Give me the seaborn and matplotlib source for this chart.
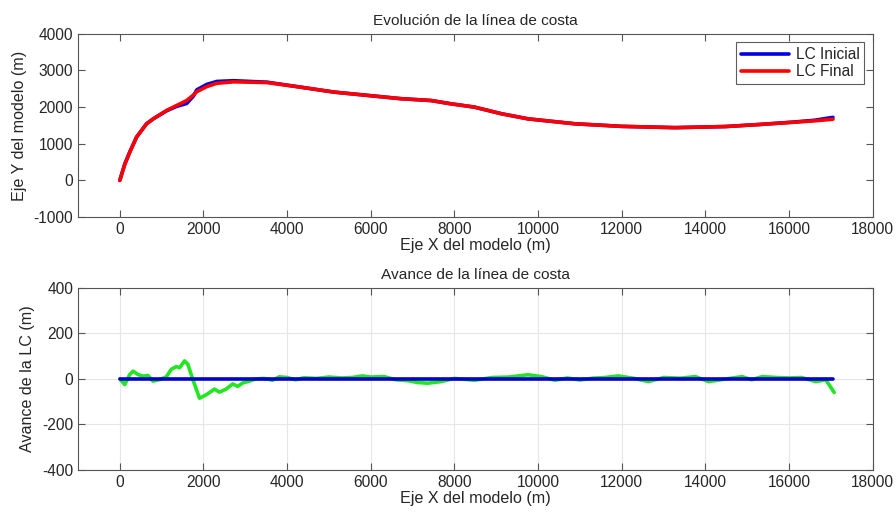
"""
Evolucion y avance de la linea de costa
"""

import numpy as np
import pandas as pd
import matplotlib

matplotlib.use("Agg")
import matplotlib.pyplot as plt
import seaborn as sns

# linea de costa inicial / final (m)
x_ini = [0, 120, 240, 400, 640, 800, 1120, 1360, 1600, 1760, 1840, 2080, 2320,
         2720, 3520, 4320, 5120, 5920, 6720, 7440, 7920, 8480, 9120, 9760,
         10880, 12000, 13280, 14480, 15280, 16080, 16600, 17050]
y_ini = [0, 450, 780, 1180, 1545, 1680, 1900, 2020, 2100, 2300, 2470, 2620,
         2700, 2720, 2680, 2545, 2410, 2320, 2230, 2180, 2090, 2000, 1820,
         1680, 1545, 1475, 1440, 1470, 1525, 1590, 1640, 1720]
x_fin = [0, 120, 240, 400, 640, 800, 1120, 1360, 1600, 1760, 1840, 2080, 2320,
         2720, 3520, 4320, 5120, 5920, 6720, 7440, 7920, 8480, 9120, 9760,
         10880, 12000, 13280, 14480, 15280, 16080, 16600, 17050]
y_fin = [0, 440, 770, 1180, 1545, 1680, 1910, 2045, 2180, 2330, 2420, 2560,
         2650, 2690, 2670, 2545, 2410, 2320, 2230, 2180, 2090, 2000, 1820,
         1680, 1545, 1475, 1440, 1470, 1525, 1585, 1625, 1670]

# avance de la linea de costa (m)
x_av = [0, 119, 238, 318, 437, 556, 675, 794, 953, 1112,
        1231, 1350, 1429, 1548, 1628, 1747, 1906, 2064, 2263, 2382,
        2541, 2700, 2818, 2938, 3097, 3256, 3450, 3653, 3811, 4000,
        4200, 4400, 4700, 5000, 5300, 5550, 5800, 6000, 6320, 6600,
        6900, 7120, 7360, 7680, 8000, 8480, 8900, 9300, 9760, 10080,
        10400, 10700, 11000, 11300, 11600, 11920, 12300, 12640, 13000, 13400,
        13760, 14080, 14500, 14880, 15100, 15360, 15700, 16000, 16300, 16640,
        16880, 17080]
y_av = [0, -25, 19, 34, 19, 12, 15, -10, -3, 9,
        42, 54, 49, 79, 64, -3, -85, -70, -45, -58,
        -45, -22, -33, -18, -10, 0, 2, -6, 9, 6,
        -4, 5, 2, 8, 4, 6, 13, 8, 10, -4,
        -8, -16, -19, -12, 2, -6, 6, 8, 18, 10,
        -6, 4, -5, 3, 6, 13, 2, -12, 6, 3,
        10, -12, 0, 10, -4, 10, 6, 4, 6, -12,
        -4, -60]
x_cero = [0, 17050]
y_cero = [0, 0]

sns.set_style("white")
plt.rcParams["font.family"] = ["Liberation Sans", "DejaVu Sans"]
plt.rcParams["axes.unicode_minus"] = False

fig = plt.figure(figsize=(8.96, 5.12), dpi=100)
ax1 = fig.add_axes([0.087, 0.576, 0.887, 0.358])
ax2 = fig.add_axes([0.087, 0.082, 0.887, 0.356])

sns.lineplot(x=x_ini, y=y_ini, sort=False, color="#0000e6", lw=2.6,
             label="LC Inicial", ax=ax1)
sns.lineplot(x=x_fin, y=y_fin, sort=False, color="#ff0000", lw=2.6,
             label="LC Final", ax=ax1)
ax1.set_xlim(-1000, 18000)
ax1.set_ylim(-1000, 4000)
ax1.set_xticks(range(0, 18001, 2000))
ax1.set_yticks(range(-1000, 4001, 1000))
ax1.set_title("Evolución de la línea de costa", fontsize=11.1, pad=6)
ax1.set_xlabel("Eje X del modelo (m)", fontsize=11.6, labelpad=1)
ax1.set_ylabel("Eje Y del modelo (m)", fontsize=11.6, labelpad=5)
leg = ax1.legend(loc="upper right", fontsize=11.2, frameon=True, fancybox=False,
                 handlelength=3.1, borderpad=0.3, labelspacing=0.15,
                 handletextpad=0.4, borderaxespad=0.55)
leg.get_frame().set_edgecolor("#333333")
leg.get_frame().set_linewidth(0.8)

sns.lineplot(x=x_av, y=y_av, sort=False, color="#22e622", lw=2.6, ax=ax2)
sns.lineplot(x=x_cero, y=y_cero, sort=False, color="#0000cc", lw=2.6, ax=ax2)
ax2.set_xlim(-1000, 18000)
ax2.set_ylim(-400, 400)
ax2.set_xticks(range(0, 18001, 2000))
ax2.set_yticks(range(-400, 401, 200))
ax2.grid(True, color="#e6e6e6", lw=0.8)
ax2.set_title("Avance de la línea de costa", fontsize=11.1, pad=6)
ax2.set_xlabel("Eje X del modelo (m)", fontsize=11.6, labelpad=1)
ax2.set_ylabel("Avance de la LC (m)", fontsize=11.6, labelpad=5)

for ax in (ax1, ax2):
    ax.tick_params(direction="in", length=5, width=0.8, labelsize=11.2,
                   top=True, right=True, bottom=True, left=True,
                   labeltop=False, labelright=False, color="#555555")
    for s in ax.spines.values():
        s.set_color("#555555")
        s.set_linewidth(0.8)

fig.savefig("out.png", dpi=100)
